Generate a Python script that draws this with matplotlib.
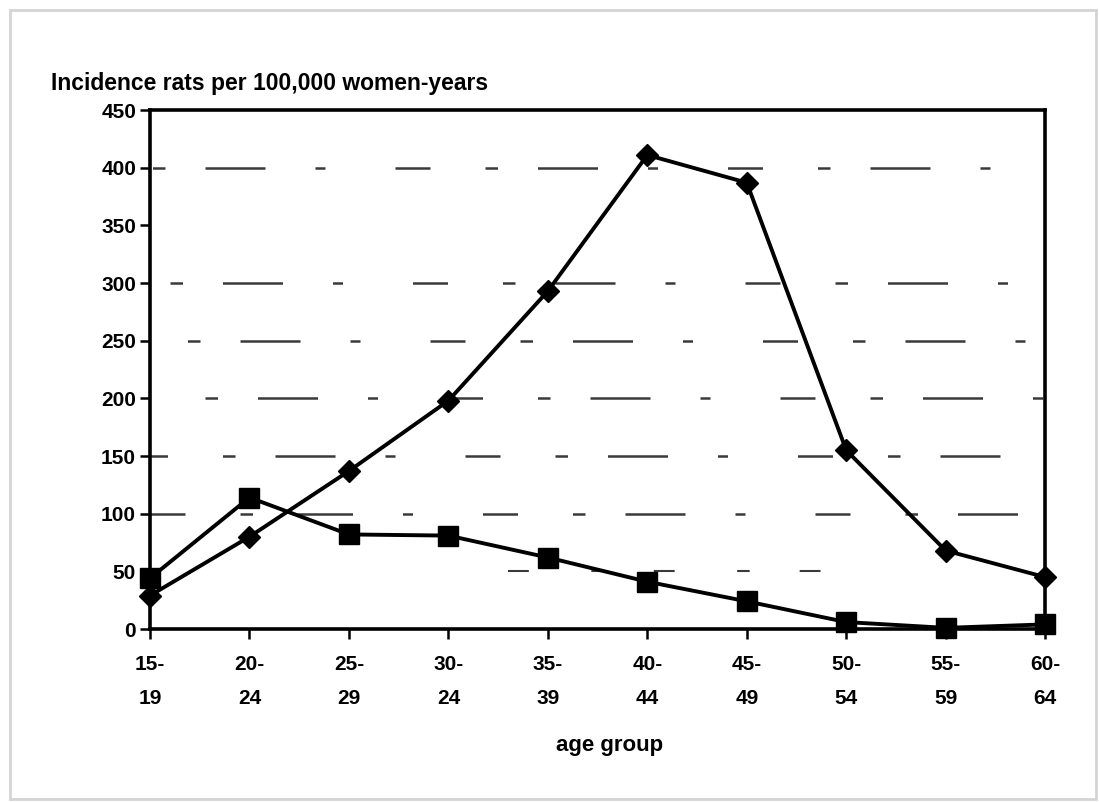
import matplotlib.pyplot as plt
from matplotlib.patches import Rectangle

# age groups (the "30-24" label is as printed in the original)
age_groups = ['15-\n19', '20-\n24', '25-\n29', '30-\n24', '35-\n39',
              '40-\n44', '45-\n49', '50-\n54', '55-\n59', '60-\n64']
diamond_series = [29, 80, 137, 198, 293, 411, 387, 155, 68, 45]
square_series = [44, 114, 82, 81, 62, 41, 24, 6, 1, 4]
y_ticks = [0, 50, 100, 150, 200, 250, 300, 350, 400, 450]
grid_levels = [100, 150, 200, 250, 300, 400]

plt.rcParams['font.family'] = ['Liberation Sans', 'DejaVu Sans']

fig = plt.figure(figsize=(10.99, 8.02), dpi=100)
ax = fig.add_axes([0.1365, 0.2157, 0.8145, 0.6471])

# light frame around the whole picture
fig.patches.append(Rectangle((0.009, 0.004), 0.988, 0.984, transform=fig.transFigure,
                             fill=False, edgecolor='#d4d4d4', linewidth=2))

x = list(range(len(age_groups)))

# broken, scanned-looking gridlines
for k, lev in enumerate(grid_levels):
    ax.axhline(lev, color='#3a3a3a', linewidth=1.8, zorder=1,
               linestyle=(k * 7, (14, 22, 5, 16, 24, 20, 4, 28)))
ax.plot([3.6, 7.3], [50, 50], color='#3a3a3a', linewidth=1.5, zorder=1,
        linestyle=(0, (10, 30, 6, 24)))

ax.plot(x, diamond_series, color='black', linewidth=2.8, marker='D',
        markersize=11, zorder=3, clip_on=False)
ax.plot(x, square_series, color='black', linewidth=2.8, marker='s',
        markersize=14, zorder=4, clip_on=False)

ax.set_xlim(0, len(age_groups) - 1)
ax.set_ylim(0, 450)
ax.set_yticks(y_ticks)
ax.set_xticks(x)
ax.set_xticklabels(age_groups, linespacing=1.95)

for s in ax.spines.values():
    s.set_linewidth(2.6)
ax.tick_params(axis='both', direction='out', length=7, width=1.8,
               labelsize=15)
ax.tick_params(axis='y', pad=3)
ax.tick_params(axis='x', pad=12)
for lab in ax.get_xticklabels() + ax.get_yticklabels():
    lab.set_fontweight('bold')

fig.text(0.046, 0.896, 'Incidence rats per 100,000 women-years',
         fontsize=16.5, fontweight='bold', ha='left', va='center')
fig.text(0.555, 0.071, 'age group', fontsize=16, fontweight='bold',
         ha='center', va='center')

fig.savefig('out.png', dpi=100)
